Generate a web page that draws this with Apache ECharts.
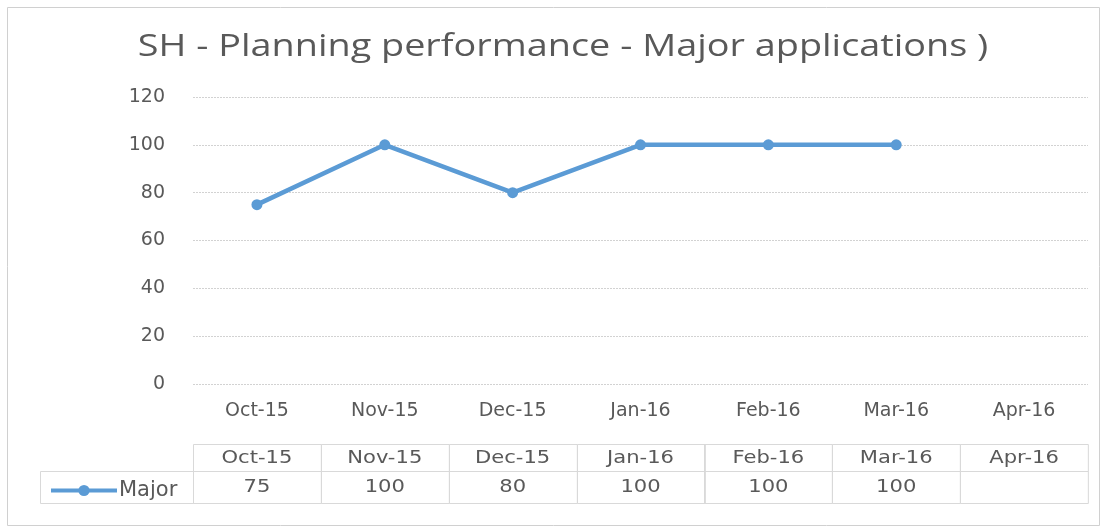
<!DOCTYPE html>
<html>
<head>
<meta charset="utf-8">
<script src="https://cdn.jsdelivr.net/npm/echarts@6/dist/echarts.min.js"></script>
<style>
  html, body { margin: 0; padding: 0; background: #fff; }
  #main { width: 1109px; height: 529px; }
</style>
</head>
<body>
<div id="main"></div>
<script>
// chart data
var months = ["Oct-15", "Nov-15", "Dec-15", "Jan-16", "Feb-16", "Mar-16", "Apr-16"];
var major = [75, 100, 80, 100, 100, 100, null];
var yTicks = [0, 20, 40, 60, 80, 100, 120];
var titleText = "SH - Planning performance - Major applications )";

var textColor = "#595959";
var lineColor = "#5b9bd5";
var borderColor = "#d9d9d9";
var labelFont = "DejaVu Sans";
var stretch = 1.24; // the original text is drawn wide

var chart = echarts.init(document.getElementById("main"));

var option = {
  backgroundColor: "#fff",
  animation: false,
  legend: {
    left: 44,
    top: 475,
    itemWidth: 66,
    itemHeight: 14,
    itemGap: 4,
    data: ["Major"],
    lineStyle: { width: 4 },
    textStyle: { fontFamily: labelFont, fontSize: 21, color: textColor, padding: [0, 0, 0, -3] }
  },
  grid: { left: 193, right: 21, top: 97, bottom: 145 },
  xAxis: {
    type: "category",
    data: months,
    boundaryGap: true,
    axisLine: { show: false },
    axisTick: { show: false },
    axisLabel: {
      margin: 18,
      fontFamily: labelFont,
      fontSize: 19,
      color: textColor
    }
  },
  yAxis: {
    type: "value",
    min: yTicks[0],
    max: yTicks[yTicks.length - 1],
    interval: 20,
    axisLine: { show: false },
    axisTick: { show: false },
    axisLabel: {
      margin: 28,
      fontFamily: labelFont,
      fontSize: 19,
      color: textColor
    },
    splitLine: { lineStyle: { color: "#d2d2d2", type: [2, 1], width: 1 } }
  },
  series: [
    {
      name: "Major",
      type: "line",
      data: major,
      symbol: "circle",
      symbolSize: 11,
      itemStyle: { color: lineColor },
      lineStyle: { color: lineColor, width: 4.5 }
    }
  ]
};

chart.setOption(option);

// title, outer frame and data table under the axis
var x0 = chart.convertToPixel({ xAxisIndex: 0 }, 0);
var x1 = chart.convertToPixel({ xAxisIndex: 0 }, 1);
var band = x1 - x0;
var rowTop = 444, rowMid = 471, rowBottom = 503, legendLeft = 40;
var graphics = [];

graphics.push({
  type: "text",
  x: 563, y: 47, scaleX: 1.22,
  style: { text: titleText, fill: textColor, font: "31px 'Open Sans'", align: "center", verticalAlign: "middle" },
  silent: true
});

graphics.push({
  type: "rect",
  shape: { x: 7.5, y: 7.5, width: 1092, height: 518 },
  style: { fill: null, stroke: "#d0d0d0", lineWidth: 1 },
  silent: true, z: -1
});

graphics.push({
  type: "rect",
  shape: { x: legendLeft + 0.5, y: rowMid + 0.5, width: x0 - band / 2 - legendLeft, height: rowBottom - rowMid },
  style: { fill: null, stroke: borderColor, lineWidth: 1 },
  silent: true
});

months.forEach(function (m, i) {
  var cx = chart.convertToPixel({ xAxisIndex: 0 }, i);
  var left = Math.round(cx - band / 2) + 0.5;
  graphics.push({
    type: "rect",
    shape: { x: left, y: rowTop + 0.5, width: band, height: rowMid - rowTop },
    style: { fill: null, stroke: borderColor, lineWidth: 1 },
    silent: true
  });
  graphics.push({
    type: "rect",
    shape: { x: left, y: rowMid + 0.5, width: band, height: rowBottom - rowMid },
    style: { fill: null, stroke: borderColor, lineWidth: 1 },
    silent: true
  });
  graphics.push({
    type: "text",
    x: cx, y: (rowTop + rowMid) / 2 + 1, scaleX: stretch,
    style: { text: m, fill: textColor, font: "17px " + labelFont, align: "center", verticalAlign: "middle" },
    silent: true
  });
  if (major[i] != null) {
    graphics.push({
      type: "text",
      x: cx, y: (rowMid + rowBottom) / 2 + 1, scaleX: stretch,
      style: { text: String(major[i]), fill: textColor, font: "17px " + labelFont, align: "center", verticalAlign: "middle" },
      silent: true
    });
  }
});

chart.setOption({ graphic: graphics });
</script>
</body>
</html>
